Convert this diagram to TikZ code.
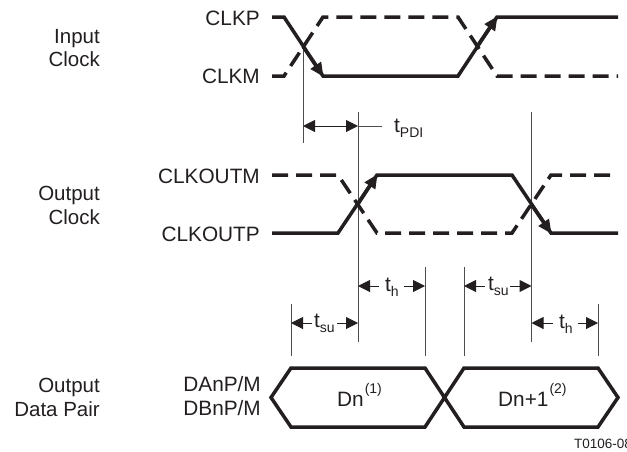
\documentclass[tikz,border=0pt]{standalone}
\usepackage{fontspec}
\setmainfont{Liberation Sans}
\usetikzlibrary{arrows.meta}
\definecolor{ink}{HTML}{231F20}
\tikzset{
  x=1pt,y=-1pt,
  lbl/.style={inner sep=0pt,text=ink,font=\fontsize{20.5}{23.5}\selectfont,anchor=base east,align=right},
  sig/.style={inner sep=0pt,text=ink,font=\fontsize{20.8}{24}\selectfont,anchor=base east},
  wave/.style={ink,line width=3.5pt,line join=miter},
  dashwave/.style={wave,dash pattern=on 16pt off 8pt},
  wavearrow/.style={wave,-{Triangle[length=14pt,width=12pt]},shorten >=-1pt},
  guide/.style={ink!80,line width=1pt},
  dim/.style={ink,line width=1pt,{Triangle[length=12pt,width=12pt]}-{Triangle[length=12pt,width=12pt]}},
  dimleft/.style={ink,line width=1pt,{Triangle[length=12pt,width=12pt]}-},
  dimright/.style={ink,line width=1pt,-{Triangle[length=12pt,width=12pt]}},
  dimtxt/.style={inner sep=0pt,text=ink,font=\fontsize{20.8}{24}\selectfont,anchor=base west},
}
\newcommand{\subtxt}[1]{t\raisebox{-5pt}{\fontsize{14}{14}\selectfont #1}}
\newcommand{\suptxt}[1]{\kern1pt\raisebox{13pt}{\fontsize{14}{14}\selectfont (#1)}}
\begin{document}
\begin{tikzpicture}
\useasboundingbox (0,0) rectangle (627,451);
% left labels
\node[lbl] (i1) at (100,43) {Input};
\node[lbl] (i2) at (100,66) {Clock};
\node[lbl] (o1) at (100,200) {Output};
\node[lbl] (o2) at (100,224) {Clock};
\node[lbl] (d1) at (100,392) {Output};
\node[lbl] (d2) at (100,416) {Data Pair};
% signal labels
\node[sig] (clkp) at (260,25) {CLKP};
\node[sig] (clkm) at (260,83) {CLKM};
\node[sig] (clkoutm) at (260,183) {CLKOUTM};
\node[sig] (clkoutp) at (260,241) {CLKOUTP};
\node[sig] (dan) at (261,391) {DAnP/M};
\node[sig] (dbn) at (261,415) {DBnP/M};
% guides
\coordinate (g1a) at (303,46); \coordinate (g1b) at (303,143);
\coordinate (g2a) at (358,112); \coordinate (g2b) at (358,342);
\coordinate (g3a) at (531.5,112); \coordinate (g3b) at (531.5,342);
\coordinate (g4a) at (425,267); \coordinate (g4b) at (425,356);
\coordinate (g5a) at (464,267); \coordinate (g5b) at (464,356);
\coordinate (g6a) at (291,304); \coordinate (g6b) at (291,356);
\coordinate (g7a) at (598,304); \coordinate (g7b) at (598,356);
\foreach \a/\b in {g1a/g1b,g2a/g2b,g3a/g3b,g4a/g4b,g5a/g5b,g6a/g6b,g7a/g7b}
  \draw[guide] (\a) -- (\b);
% input clock
\draw[dashwave] (272,76) -- (284,76) -- (323,17) -- (458,17) -- (497,76) -- (618,76);
\draw[wave] (272,17) -- (284,17) -- (323,76) -- (458,76) -- (497,17) -- (618,17);
\draw[wavearrow] (303,46.5) -- (323,76);
\draw[wavearrow] (477,46.5) -- (497,17);
% output clock
\draw[dashwave] (272,175) -- (338,175) -- (377,233) -- (512,233) -- (551,175) -- (618,175);
\draw[wave] (272,233) -- (338,233) -- (377,175) -- (512,175) -- (551,233) -- (618,233);
\draw[wavearrow] (358,204) -- (377,175);
\draw[wavearrow] (531,204) -- (551,233);
% tPDI
\coordinate (p1) at (303,126); \coordinate (p2) at (358,126); \coordinate (p3) at (382,126);
\draw[dim] (p1) -- (p2);
\draw[guide] (p2) -- (p3);
\node[dimtxt] (tpdi) at (394,132) {\subtxt{PDI}};
% th / tsu
\node[dimtxt] (th1) at (385,291) {\subtxt{h}};
\node[dimtxt] (tsu1) at (488,290) {\subtxt{su}};
\node[dimtxt] (tsu2) at (314,327) {\subtxt{su}};
\node[dimtxt] (th2) at (559,328) {\subtxt{h}};
\draw[dimleft] (358,286) -- (379,286); \draw[dimright] (404,286) -- (425,286);
\draw[dimleft] (464,286) -- (485,286); \draw[dimright] (510,286) -- (531.5,286);
\draw[dimleft] (291,323) -- (312,323); \draw[dimright] (337,323) -- (358,323);
\draw[dimleft] (531.5,323) -- (553,323); \draw[dimright] (578,323) -- (598,323);
% data
\draw[wave] (271,397.5) -- (291,368) -- (425,368) -- (464,427) -- (598,427) -- (618,397.5) -- (598,368) -- (464,368) -- (425,427) -- (291,427) -- cycle;
\node[dimtxt] (dn) at (337,406) {Dn\suptxt{1}};
\node[dimtxt] (dn1) at (498,406) {Dn+1\suptxt{2}};
\node[inner sep=0pt,text=ink,font=\fontsize{13.5}{15}\selectfont,anchor=base west] (tag) at (574,448) {T0106-08};
\end{tikzpicture}
\end{document}
